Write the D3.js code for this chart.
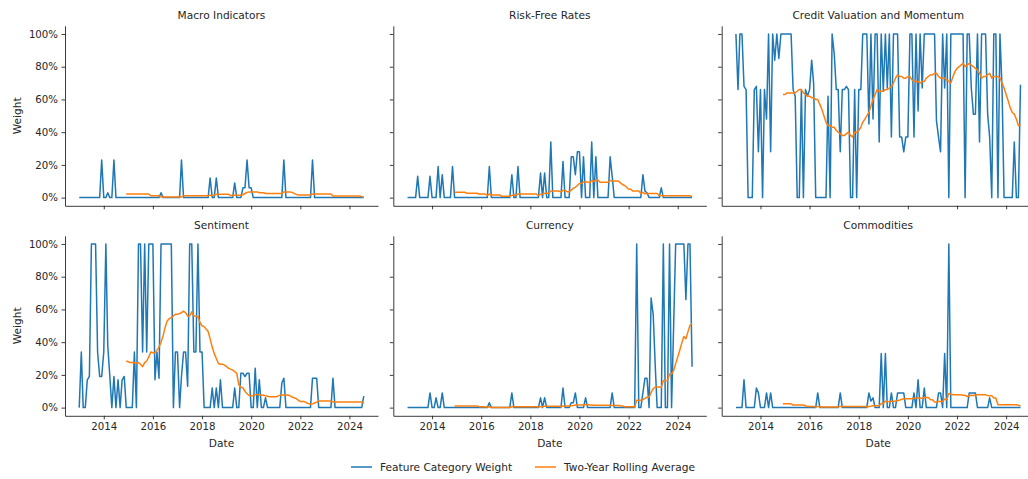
<!DOCTYPE html>
<html>
<head>
<meta charset="utf-8">
<script src="https://cdn.jsdelivr.net/npm/d3@7"></script>
<style>
  body { margin: 0; background: #fff; }
  svg { display: block; font-family: "DejaVu Sans", sans-serif; }
</style>
</head>
<body>
<script>
// monthly weights (%), Jan 2013 .. Aug 2024, one row per year
var categories = ["Macro Indicators", "Risk-Free Rates", "Credit Valuation and Momentum",
                  "Sentiment", "Currency", "Commodities"];
var seriesNames = ["Feature Category Weight", "Two-Year Rolling Average"];
var yTicks = [0, 20, 40, 60, 80, 100];

var macro = [
  0,0,0,0,0,0,0,0,0,0,0,23,
  0,0,3,0,0,23,0,0,0,0,0,0,
  0,0,0,0,0,0,0,0,0,0,0,0,
  0,0,0,0,3,0,0,0,0,0,0,0,
  0,0,23,0,0,0,0,0,0,0,0,0,
  0,0,0,0,12,0,0,12,0,0,0,0,
  0,0,0,0,9,0,0,0,6,6,23,6,
  6,0,0,0,0,0,0,0,0,0,0,0,
  0,0,0,0,23,0,0,0,0,0,0,0,
  0,0,0,0,0,0,23,0,0,0,0,0,
  0,0,0,0,0,0,0,0,0,0,0,0,
  0,0,0,0,0,0,0,0];
var riskFree = [
  0,0,0,0,0,13,0,0,0,0,0,13,
  0,0,0,19,0,14,0,0,0,0,19,0,
  0,0,0,0,0,0,0,0,0,0,0,0,
  0,0,0,0,19,0,0,0,0,0,0,0,
  0,0,0,14,0,0,19,0,0,0,0,0,
  0,0,0,0,0,15,0,15,0,0,34,0,
  0,0,0,0,22,0,0,0,25,25,14,28,
  28,0,25,0,0,0,34,0,25,0,0,0,
  0,0,0,25,13,0,0,0,0,0,0,0,
  0,0,0,0,0,0,0,14,4,3,0,0,
  0,0,0,0,6,0,0,0,0,0,0,0,
  0,0,0,0,0,0,0,0];
var credit = [
  100,66,100,100,68,66,0,0,0,66,68,28,
  66,0,66,48,100,28,100,84,100,85,100,100,
  100,100,100,100,66,62,0,0,66,0,66,62,
  66,84,70,0,0,0,0,0,0,62,0,100,
  88,66,66,28,66,66,68,66,0,0,66,0,
  66,66,100,100,100,45,100,48,100,100,34,100,
  65,100,67,100,37,100,100,100,37,37,28,37,
  37,100,100,37,100,53,100,67,100,100,100,100,
  100,100,47,37,28,100,67,100,0,100,100,100,
  100,100,100,100,0,100,100,67,51,51,100,34,
  100,100,100,51,37,0,100,100,0,100,67,0,
  0,0,0,0,34,0,0,69];
var sentiment = [
  0,34,0,0,17,19,100,100,100,34,19,19,
  34,100,38,19,0,19,0,17,0,17,19,0,
  0,0,0,34,0,100,100,34,100,34,100,100,
  100,17,34,18,100,100,100,100,100,100,0,34,
  34,0,19,34,34,13,100,100,34,34,100,34,
  34,0,0,0,0,12,0,12,0,17,0,0,
  0,0,0,0,12,0,0,21,21,19,21,21,
  0,0,24,0,17,0,0,6,0,0,0,0,
  0,0,0,15,18,0,0,0,0,0,0,0,
  0,0,0,0,0,0,18,18,18,0,0,0,
  0,0,0,0,18,0,0,0,0,0,0,0,
  0,0,0,0,0,0,0,7];
var currency = [
  0,0,0,0,0,0,0,0,0,0,0,9,
  0,0,6,0,0,9,0,0,0,0,0,0,
  0,0,0,0,0,0,0,0,0,0,0,0,
  0,0,0,0,3,0,0,0,0,0,0,0,
  0,0,0,9,0,0,0,0,0,0,0,0,
  0,0,0,0,0,6,0,6,0,0,0,0,
  0,0,0,0,12,0,0,0,3,3,9,0,
  0,0,0,6,0,0,0,0,0,0,0,0,
  0,0,0,0,9,0,0,0,0,0,0,0,
  0,0,0,0,100,0,0,9,18,18,0,67,
  57,25,0,0,0,100,0,0,100,0,50,100,
  100,100,100,100,66,100,100,25];
var commodities = [
  0,0,0,0,17,0,0,0,0,0,12,9,
  0,0,0,9,0,9,0,0,0,0,0,0,
  0,0,0,0,0,0,0,0,0,0,0,0,
  0,0,0,0,9,0,0,0,0,0,0,0,
  0,0,0,9,0,0,0,0,0,0,0,0,
  0,0,0,0,0,9,4,6,0,0,0,33,
  0,33,0,0,9,0,0,9,9,9,9,0,
  0,0,0,9,0,17,0,0,12,0,0,0,
  0,0,0,9,9,0,33,0,100,0,0,0,
  0,0,0,0,0,0,9,9,9,9,0,0,
  0,0,0,0,6,0,0,0,0,0,0,0,
  0,0,0,0,0,0,0,0];

// two-year rolling averages (%), Dec 2014 .. Aug 2024
var macroAvg = [
  2.2,
  2.2,2.2,2.2,2.2,2.2,2.2,2.2,2.2,2.2,2.2,2.2,1.2,
  1.2,1.2,1.2,1.2,0.4,0.4,0.4,0.4,0.4,0.4,0.4,0.4,
  0.4,0.4,0.4,1.2,1.2,1.2,1.2,1.2,1.2,1.2,1.2,1.2,
  1.2,1.2,1.2,1.2,1.5,1.5,1.5,2.0,2.0,2.0,2.0,2.0,
  2.0,2.0,1.3,1.3,1.5,1.5,1.5,1.5,1.8,2.5,3.2,3.4,
  3.5,3.5,3.5,3.5,3.0,3.0,3.0,2.5,2.5,2.5,2.5,2.5,
  2.5,2.5,2.5,2.5,3.5,3.5,3.5,3.5,3.2,2.6,2.0,1.6,
  1.6,1.6,1.6,1.6,1.6,1.6,2.2,2.2,2.2,2.2,2.2,2.2,
  2.2,2.2,2.2,2.2,1.0,1.0,1.0,1.0,1.0,1.0,1.0,1.0,
  1.0,1.0,1.0,1.0,1.0,1.0,0.6,0.4];
var riskFreeAvg = [
  3.3,
  3.3,3.3,3.3,3.3,3.3,2.7,2.7,2.7,2.7,2.7,2.7,2.2,
  2.2,2.2,2.2,1.4,2.2,1.6,1.6,1.6,1.6,1.6,0.8,0.8,
  0.8,0.8,0.8,1.4,1.4,1.4,2.2,2.2,2.2,2.2,2.2,2.2,
  2.2,2.2,2.2,2.2,1.4,2.0,2.0,2.6,2.6,2.6,4.0,4.0,
  4.0,4.0,4.0,3.5,4.4,4.4,3.6,3.6,4.6,5.7,6.3,7.4,
  8.6,8.6,9.6,9.6,9.6,9.0,10.4,9.8,10.8,10.8,9.4,9.4,
  9.4,9.4,9.4,10.5,10.1,10.1,10.1,10.1,9.0,8.0,7.4,6.3,
  5.1,5.1,4.0,4.0,4.0,4.0,2.6,3.2,2.3,2.5,2.5,2.5,
  2.5,2.5,2.5,1.4,1.1,1.1,1.1,1.1,1.1,1.1,1.1,1.1,
  1.1,1.1,1.1,1.1,1.1,1.1,1.1,0.6];
var creditAvg = [
  63,
  63,64,64,64,64,64,65,66,66,64,63,62,
  62,61,61,60,60,57,54,50,46,44,44,43,
  43,41,40,39,38,38,39,40,38,37,40,40,
  41,43,46,48,50,52,56,60,63,66,65,65,
  65,66,66,67,68,70,73,75,74,74,73,73,
  74,74,72,71,71,71,70,71,71,73,74,75,
  75,76,76,74,73,73,73,72,71,70,74,77,
  79,80,81,82,80,81,82,81,80,79,78,76,
  73,74,74,75,76,73,74,74,74,73,70,67,
  63,59,55,52,51,48,44,45];
var sentimentAvg = [
  28.5,
  28,27.5,27.5,27.5,27,27.5,26.5,25,27.5,28.5,31,34,
  33.5,33.5,35,37,40,44,49,53,54.5,55,56,57,
  57,57.5,58,59,58,56,56,58.5,56,56,55.5,52,
  50,49.5,48,46.5,42,37,33,30,27,26.5,26.5,26,
  25,24,23.5,23,22,21,14,12.5,12,10,8.5,7.5,
  7,7.5,8,8,7.7,7.7,7.5,7.2,7,6.7,6.7,6.7,
  6.7,7,7.5,7.7,7.7,7.7,7.7,7.2,6.5,6,5.5,4.5,
  3.8,3.7,3.7,3,2.5,2,2.3,2.8,3.4,4,4,4,
  4,4,4,4,3.5,3.5,3.5,3.5,3.5,3.5,3.5,3.5,
  3.5,3.5,3.5,3.5,3.5,3.5,3.5,2.5];
var currencyAvg = [
  1.0,
  1.0,1.0,1.0,1.0,1.0,1.0,1.0,1.0,1.0,1.0,1.0,0.6,
  0.6,0.6,0.4,0.4,0.5,0.1,0.1,0.1,0.1,0.1,0.1,0.1,
  0.1,0.1,0.1,0.5,0.5,0.5,0.5,0.5,0.5,0.5,0.5,0.5,
  0.5,0.5,0.5,0.5,0.4,0.6,0.6,0.9,0.9,0.9,0.9,0.9,
  0.9,0.9,0.9,0.5,1.0,1.0,1.0,1.0,1.1,1.3,1.6,1.6,
  1.6,1.6,1.6,1.9,1.9,1.6,1.6,1.4,1.4,1.4,1.4,1.4,
  1.4,1.4,1.4,1.4,1.3,1.3,1.3,1.3,1.1,1.0,0.6,0.6,
  0.6,0.6,0.6,0.4,4.5,4.5,4.5,4.9,5.7,6.4,6.4,9.2,
  11.6,12.6,12.6,12.6,12.3,16.5,16.5,16.5,20.6,20.6,22.7,26.9,
  31,35.2,39.4,43.5,42.1,46.3,50.4,51.1];
var commoditiesAvg = [
  2.3,
  2.3,2.3,2.3,2.3,1.6,1.6,1.6,1.6,1.6,1.6,1.1,0.75,
  0.75,0.75,0.75,0.4,0.75,0.4,0.4,0.4,0.4,0.4,0.4,0.4,
  0.4,0.4,0.4,0.75,0.75,0.75,0.75,0.75,0.75,0.75,0.75,0.75,
  0.75,0.75,0.75,0.75,0.4,0.75,0.9,1.15,1.15,1.15,1.15,2.5,
  2.5,3.9,3.9,3.5,3.9,3.9,3.9,4.25,4.6,5.0,5.4,5.4,
  5.4,5.4,5.4,5.75,5.75,6.1,5.9,5.65,6.15,6.15,6.15,4.8,
  4.8,3.4,3.4,3.8,3.8,3.8,5.2,4.8,8.6,8.25,7.9,7.9,
  7.9,7.9,7.9,7.5,7.5,6.8,7.2,7.5,7.4,7.8,7.8,7.8,
  7.8,7.8,7.8,7.4,7.25,7.25,5.9,5.9,1.75,1.75,1.75,1.75,
  1.75,1.75,1.75,1.75,1.75,1.75,1.4,1.0];

var weights = [macro, riskFree, credit, sentiment, currency, commodities];
var averages = [macroAvg, riskFreeAvg, creditAvg, sentimentAvg, currencyAvg, commoditiesAvg];

var months = d3.timeMonth.range(new Date(2013, 0, 1), new Date(2024, 8, 1));

var width = 1028, height = 479;
var colX = [65, 393.3, 721.7], rowY = [25.8, 235.8];
var pw = 313, ph = 180;
var blue = "#1f77b4", orange = "#ff7f0e", ink = "#262626";

var svg = d3.select("body").append("svg")
  .attr("width", width)
  .attr("height", height);

var span = months[months.length - 1] - months[0];
var x = d3.scaleTime()
  .domain([new Date(+months[0] - span * 0.05), new Date(+months[months.length - 1] + span * 0.05)])
  .range([0, pw]);
var y = d3.scaleLinear().domain([-5, 105]).range([ph, 0]);

var line = d3.line()
  .x(function(d) { return x(d.date); })
  .y(function(d) { return y(d.v); });

categories.forEach(function(name, k) {
  var col = k % 3, row = Math.floor(k / 3);
  var g = svg.append("g").attr("transform", "translate(" + colX[col] + "," + rowY[row] + ")");

  var xAxis = d3.axisBottom(x)
    .ticks(d3.timeYear.every(2))
    .tickFormat(row == 1 ? d3.timeFormat("%Y") : function() { return ""; })
    .tickSize(3.5).tickPadding(3.5).tickSizeOuter(0);
  var yAxis = d3.axisLeft(y)
    .tickValues(yTicks)
    .tickFormat(col == 0 ? function(d) { return d + "%"; } : function() { return ""; })
    .tickSize(3.5).tickPadding(3.5).tickSizeOuter(0);

  g.append("g").attr("transform", "translate(0," + ph + ")").call(xAxis);
  g.append("g").call(yAxis);

  g.selectAll(".domain, .tick line").attr("stroke", ink).attr("stroke-width", 0.9);
  g.selectAll(".tick text").attr("fill", ink)
    .style("font-family", "DejaVu Sans").style("font-size", "10.2px");

  var wData = weights[k].map(function(v, i) { return {date: months[i], v: v}; });
  var avg = averages[k];
  var off = months.length - avg.length;
  var aData = avg.map(function(v, i) { return {date: months[off + i], v: v}; });

  g.append("path").datum(wData)
    .attr("fill", "none").attr("stroke", blue).attr("stroke-width", 1.5)
    .attr("stroke-linejoin", "round").attr("d", line);
  g.append("path").datum(aData)
    .attr("fill", "none").attr("stroke", orange).attr("stroke-width", 1.5)
    .attr("stroke-linejoin", "round").attr("d", line);

  g.append("text")
    .attr("x", pw / 2).attr("y", -6.5)
    .attr("text-anchor", "middle")
    .attr("fill", ink).style("font-size", "10.6px")
    .text(name);

  if (row == 1) {
    g.append("text")
      .attr("x", pw / 2).attr("y", ph + 31)
      .attr("text-anchor", "middle")
      .attr("fill", ink).style("font-size", "10.6px")
      .text("Date");
  }
  if (col == 0) {
    g.append("text")
      .attr("transform", "translate(-44," + (ph / 2) + ") rotate(-90)")
      .attr("text-anchor", "middle")
      .attr("fill", ink).style("font-size", "10.6px")
      .text("Weight");
  }
});

// legend
var legend = svg.append("g").attr("transform", "translate(350,467)");
var items = [{name: seriesNames[0], color: blue, x: 0}, {name: seriesNames[1], color: orange, x: 184}];
items.forEach(function(it) {
  legend.append("line")
    .attr("x1", it.x + 1).attr("x2", it.x + 22)
    .attr("stroke", it.color).attr("stroke-width", 1.5);
  legend.append("text")
    .attr("x", it.x + 30).attr("y", 3.7)
    .attr("fill", ink).style("font-size", "10.6px")
    .text(it.name);
});
</script>
</body>
</html>
